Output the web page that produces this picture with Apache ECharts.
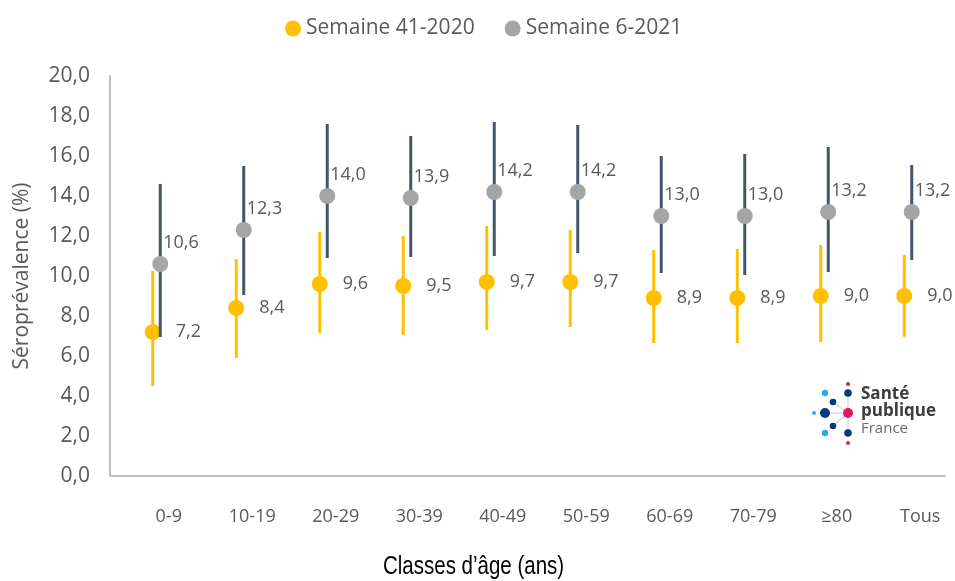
<!DOCTYPE html>
<html>
<head>
<meta charset="utf-8">
<script src="https://cdn.jsdelivr.net/npm/echarts@6/dist/echarts.min.js"></script>
<style>
  html, body { margin: 0; padding: 0; background: #ffffff; }
  #chart { width: 955px; height: 581px; }
</style>
</head>
<body>
<div id="chart"></div>
<script>
// Age classes
const categories = ['0-9', '10-19', '20-29', '30-39', '40-49', '50-59', '60-69', '70-79', '≥80', 'Tous'];

// Week 41-2020: seroprevalence and confidence interval bounds (%)
const week41Values = [7.2, 8.4, 9.6, 9.5, 9.7, 9.7, 8.9, 8.9, 9.0, 9.0];
const week41Low = [4.5, 5.9, 7.15, 7.05, 7.3, 7.45, 6.65, 6.65, 6.7, 6.95];
const week41High = [10.25, 10.85, 12.2, 12.0, 12.5, 12.3, 11.3, 11.35, 11.55, 11.05];

// Week 6-2021: seroprevalence and confidence interval bounds (%)
const week6Values = [10.6, 12.3, 14.0, 13.9, 14.2, 14.2, 13.0, 13.0, 13.2, 13.2];
const week6Low = [6.95, 9.05, 10.9, 10.95, 11.0, 11.15, 10.15, 10.05, 10.2, 10.8];
const week6High = [14.6, 15.5, 17.6, 17.0, 17.7, 17.55, 16.0, 16.1, 16.45, 15.55];

const seriesNames = ['Semaine 41-2020', 'Semaine 6-2021'];
const yTicks = { min: 0, max: 20, interval: 2 };

const YELLOW = '#FFC000';
const GREY = '#A5A5A5';
const SLATE = '#44546A';
const TEXT = '#595959';
const FONT = '"Open Sans", "Noto Sans", sans-serif';

const fmt = v => Number(v).toFixed(1).replace('.', ',');

function errorBar(color, dx) {
  return function (params, api) {
    const lo = api.coord([api.value(0), api.value(1)]);
    const hi = api.coord([api.value(0), api.value(2)]);
    return {
      type: 'line',
      shape: { x1: lo[0] + dx, y1: lo[1], x2: hi[0] + dx, y2: hi[1] },
      style: { stroke: color, lineWidth: 3 }
    };
  };
}

const chart = echarts.init(document.getElementById('chart'), null, { renderer: 'canvas' });

chart.setOption({
  animation: false,
  backgroundColor: '#ffffff',
  textStyle: { fontFamily: FONT },
  legend: {
    data: [
      { name: seriesNames[0], itemStyle: { color: YELLOW } },
      { name: seriesNames[1], itemStyle: { color: GREY } }
    ],
    icon: 'circle',
    left: 280,
    top: 13,
    itemWidth: 16,
    itemHeight: 16,
    itemGap: 30,
    textStyle: { color: TEXT, fontSize: 21, fontFamily: FONT }
  },
  grid: { left: 110, right: 10, top: 76, bottom: 105, outerBoundsMode: 'none', containLabel: false },
  xAxis: {
    type: 'category',
    data: categories,
    boundaryGap: true,
    axisLine: { show: true, lineStyle: { color: '#BFBFBF', width: 2 } },
    axisTick: { show: false },
    axisLabel: {
      color: TEXT,
      fontSize: 18,
      fontFamily: FONT,
      align: 'center',
      margin: 32,
      padding: [0, 0, 0, 34]
    },
    splitLine: { show: false }
  },
  yAxis: {
    type: 'value',
    min: yTicks.min,
    max: yTicks.max,
    interval: yTicks.interval,
    name: 'Séroprévalence (%)',
    nameLocation: 'middle',
    nameGap: 77,
    nameTextStyle: { color: TEXT, fontSize: 21, fontFamily: FONT },
    axisLine: { show: true, lineStyle: { color: '#BFBFBF', width: 2 } },
    axisTick: { show: false },
    splitLine: { show: false },
    axisLabel: {
      color: TEXT,
      fontSize: 21,
      fontFamily: FONT,
      margin: 20,
      formatter: fmt
    }
  },
  graphic: [
    {
      // axis title in a narrow face
      type: 'text',
      x: 383,
      y: 555,
      scaleX: 0.82,
      style: {
        text: 'Classes d’âge (ans)',
        fill: '#000000',
        font: '25px "Liberation Sans", Arial, sans-serif',
        textVerticalAlign: 'top'
      }
    },
    {
      // Santé publique France logo
      type: 'group',
      children: [
        { type: 'line', shape: { x1: 848, y1: 393, x2: 848, y2: 433 }, style: { stroke: '#D9D9D9', lineWidth: 1.5 } },
        { type: 'line', shape: { x1: 824, y1: 413, x2: 848, y2: 413 }, style: { stroke: '#D9D9D9', lineWidth: 1.5 } },
        { type: 'line', shape: { x1: 833, y1: 402, x2: 848, y2: 413 }, style: { stroke: '#D9D9D9', lineWidth: 1.5 } },
        { type: 'line', shape: { x1: 833, y1: 426, x2: 848, y2: 413 }, style: { stroke: '#D9D9D9', lineWidth: 1.5 } },
        { type: 'circle', shape: { cx: 848, cy: 384, r: 2 }, style: { fill: '#E6175C' } },
        { type: 'circle', shape: { cx: 848, cy: 393, r: 3.8 }, style: { fill: '#003B80' } },
        { type: 'circle', shape: { cx: 825, cy: 393, r: 3.2 }, style: { fill: '#29AAE1' } },
        { type: 'circle', shape: { cx: 833, cy: 402, r: 3.3 }, style: { fill: '#003B80' } },
        { type: 'circle', shape: { cx: 814, cy: 413, r: 2 }, style: { fill: '#29AAE1' } },
        { type: 'circle', shape: { cx: 825, cy: 413, r: 5 }, style: { fill: '#003B80' } },
        { type: 'circle', shape: { cx: 848, cy: 413, r: 5 }, style: { fill: '#E6175C' } },
        { type: 'circle', shape: { cx: 833, cy: 426, r: 3.3 }, style: { fill: '#003B80' } },
        { type: 'circle', shape: { cx: 825, cy: 433, r: 3.2 }, style: { fill: '#29AAE1' } },
        { type: 'circle', shape: { cx: 848, cy: 433, r: 3.8 }, style: { fill: '#003B80' } },
        { type: 'circle', shape: { cx: 848, cy: 443, r: 2 }, style: { fill: '#E6175C' } },
        { type: 'text', x: 861, y: 386, style: { text: 'Santé', fill: '#3C3C3C', font: 'bold 17px "Open Sans", sans-serif' } },
        { type: 'text', x: 861, y: 403, style: { text: 'publique', fill: '#3C3C3C', font: 'bold 17px "Open Sans", sans-serif' } },
        { type: 'text', x: 861, y: 421, style: { text: 'France', fill: '#6B6B6B', font: '15px "Open Sans", sans-serif' } }
      ]
    }
  ],
  series: [
    {
      name: seriesNames[0] + ' IC',
      type: 'custom',
      renderItem: errorBar(YELLOW, 1),
      data: categories.map((c, i) => [i, week41Low[i], week41High[i]]),
      encode: { x: 0, y: [1, 2] },
      z: 2,
      silent: true
    },
    {
      name: seriesNames[0],
      type: 'scatter',
      data: week41Values,
      symbol: 'circle',
      symbolSize: 16,
      symbolOffset: [1, 0],
      itemStyle: { color: YELLOW, opacity: 1 },
      z: 3,
      label: {
        show: true,
        position: [31, 8],
        align: 'left',
        verticalAlign: 'middle',
        color: TEXT,
        fontSize: 18,
        fontFamily: FONT,
        formatter: p => fmt(p.value)
      }
    },
    {
      name: seriesNames[1] + ' IC',
      type: 'custom',
      renderItem: errorBar(SLATE, 8.5),
      data: categories.map((c, i) => [i, week6Low[i], week6High[i]]),
      encode: { x: 0, y: [1, 2] },
      z: 4,
      silent: true
    },
    {
      name: seriesNames[1],
      type: 'scatter',
      data: week6Values,
      symbol: 'circle',
      symbolSize: 16,
      symbolOffset: [8.5, 0],
      itemStyle: { color: GREY, opacity: 1 },
      z: 5,
      label: {
        show: true,
        position: [11, -13],
        align: 'left',
        verticalAlign: 'middle',
        color: TEXT,
        fontSize: 18,
        fontFamily: FONT,
        formatter: p => fmt(p.value)
      }
    }
  ]
});
</script>
</body>
</html>
